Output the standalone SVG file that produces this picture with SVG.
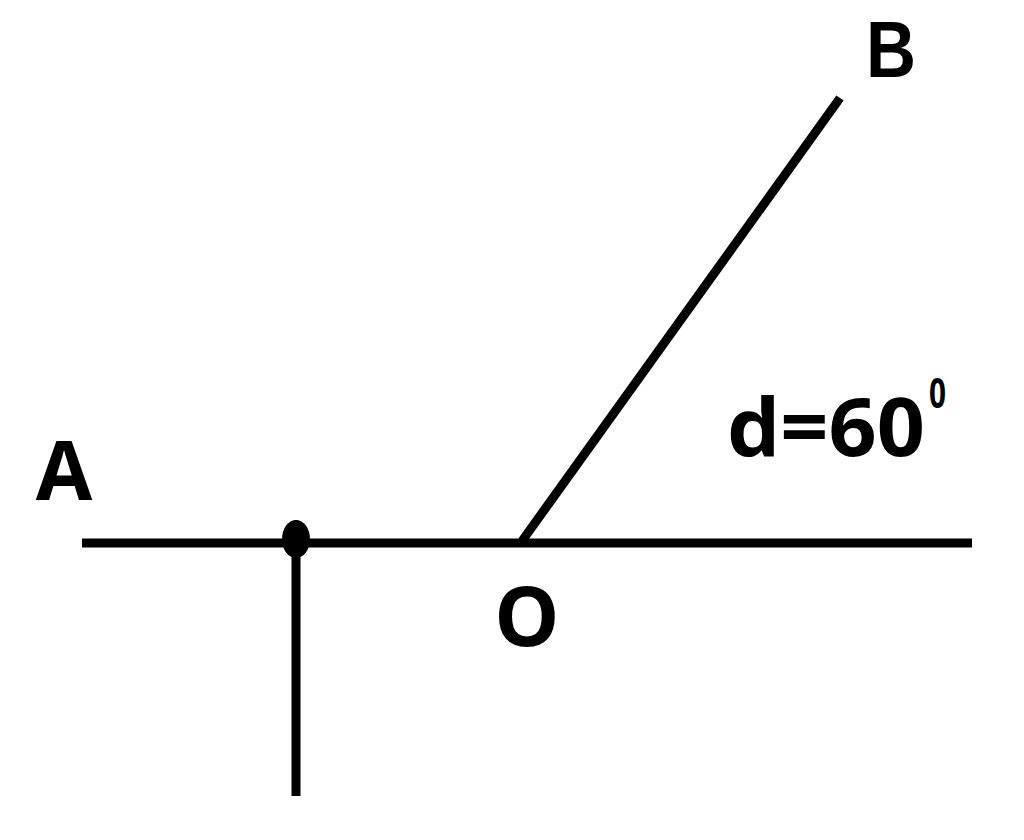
<svg xmlns="http://www.w3.org/2000/svg" width="1024" height="840" viewBox="0 0 1024 840">
<style>
.ln{stroke:#000;stroke-width:9;fill:none;stroke-linecap:butt}
.lbl{font-family:"Open Sans","Liberation Sans",sans-serif;font-weight:bold;fill:#000}
.lbl2{font-family:"Liberation Sans",sans-serif;font-weight:bold;fill:#000}
</style>
<rect width="1024" height="840" fill="#fff"/>
<g id="connectors">
<line class="ln" x1="82" y1="543" x2="972" y2="543"/>
<line class="ln" x1="296" y1="543" x2="296" y2="796"/>
<line class="ln" x1="522" y1="541" x2="840" y2="98"/>
</g>
<g id="dot"><ellipse cx="296" cy="539" rx="14" ry="19" fill="#000"/></g>
<g id="A"><text class="lbl" x="64" y="500" font-size="82" text-anchor="middle">A</text></g>
<g id="B"><text class="lbl2" x="866" y="77" font-size="79" textLength="50" lengthAdjust="spacingAndGlyphs">B</text></g>
<g id="O"><text class="lbl" x="527" y="646" font-size="82" text-anchor="middle">O</text></g>
<g id="angle"><text class="lbl" x="727" y="456" font-size="80" textLength="198" lengthAdjust="spacingAndGlyphs">d=60</text><text class="lbl" x="929" y="408" font-size="42" textLength="17" lengthAdjust="spacingAndGlyphs">0</text></g>
</svg>
